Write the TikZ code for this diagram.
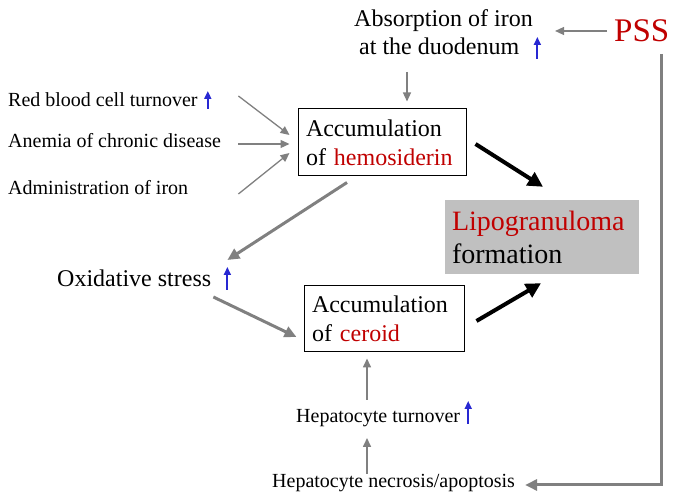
\documentclass[tikz,border=0pt]{standalone}
\usepackage{fontspec}
\setmainfont{Liberation Serif}
\usetikzlibrary{arrows.meta}
\definecolor{darkred}{RGB}{192,0,0}
\definecolor{linegray}{RGB}{128,128,128}
\definecolor{upblue}{RGB}{40,40,210}
\definecolor{boxgray}{RGB}{192,192,192}

\begin{document}
\begin{tikzpicture}[x=1pt, y=1pt,
	small/.style={inner sep=0pt, anchor=base west, font=\fontsize{20}{24}\selectfont},
	big/.style={inner sep=0pt, anchor=base west, font=\fontsize{24}{29}\selectfont},
	acc/.style={draw, line width=1pt, align=left, inner xsep=8pt, inner ysep=0pt, minimum height=67pt, font=\fontsize{24}{29}\selectfont},
	feed/.style={draw=linegray, line width=1.3pt, -{Triangle[length=9pt, width=8pt]}},
	heavy/.style={draw=linegray, line width=3pt, -{Triangle[length=12pt, width=11pt]}},
	push/.style={draw=black, line width=4pt, -{Triangle[length=15pt, width=15pt]}},
	rise/.style={draw=upblue, line width=1.8pt, -{Triangle[length=8pt, width=7pt]}}]
	\useasboundingbox (0,0) rectangle (685,502);
	\node[small] (rbc) at (8,395) {Red blood cell turnover};
	\node[small] (acd) at (8,354) {Anemia of chronic disease};
	\node[small] (adm) at (8,307) {Administration of iron};
	\node[big] (absA) at (354,475) {Absorption of iron};
	\node[big] (absB) at (359,447) {at the duodenum};
	\node[inner sep=0pt, anchor=base west, font=\fontsize{33}{40}\selectfont, text=darkred] (pss) at (614,460) {PSS};
	\node[acc, text width=152pt] (hemo) at (382,359.5) {Accumulation\\of {\color{darkred}hemosiderin}};
	\node[fill=boxgray, align=left, inner xsep=7pt, inner ysep=0pt, text width=180pt, minimum height=74pt, font=\fontsize{28}{33}\selectfont] (lipo) at (542,265) {{\color{darkred}Lipogranuloma}\\formation};
	\node[big] (oxi) at (57,215) {Oxidative stress};
	\node[acc, text width=144pt, minimum height=66pt] (cer) at (384,183) {Accumulation\\of {\color{darkred}ceroid}};
	\node[small] (hept) at (296,79) {Hepatocyte turnover};
	\node[small] (necr) at (272,14) {Hepatocyte necrosis/apoptosis};
	\draw[feed] ([shift={(40.6,11)}]rbc.base east) -- ([shift={(-8,7.5)}]hemo.west);
	\draw[feed] ([shift={(17.3,4)}]acd.base east) -- ([shift={(-8,-1.5)}]hemo.west);
	\draw[feed] ([shift={(50,1)}]adm.base east) -- ([shift={(-8,-10.5)}]hemo.west);
	\draw[feed] ([shift={(-7,11)}]pss.base west) -- ([shift={(22,-4)}]absA.base east);
	\draw[feed] ([shift={(48,-17)}]absB.base west) -- ([shift={(25,7)}]hemo.north);
	\draw[heavy] ([shift={(-35,-6)}]hemo.south) -- ([shift={(16,27)}]oxi.base east);
	\draw[heavy] ([shift={(2,-10)}]oxi.base east) -- ([shift={(-7,-18)}]cer.west);
	\draw[push] ([shift={(9,-1.5)}]hemo.east) -- ([shift={(1,13)}]lipo.north);
	\draw[push] ([shift={(12,-2)}]cer.east) -- ([shift={(-1,-9)}]lipo.south);
	\draw[feed, line width=1.6pt] ([shift={(71,23)}]hept.base west) -- ([shift={(-17,-6)}]cer.south);
	\draw[feed, line width=1.6pt] ([shift={(95,14)}]necr.base west) -- ([shift={(71,-15)}]hept.base west);
	\draw[heavy] ([shift={(20,-12)}]pss.base) |- ([shift={(10,3)}]necr.base east);
	\draw[rise] ([shift={(10,-2)}]rbc.base east) -- ++(0,18);
	\draw[rise] ([shift={(18,-4)}]absB.base east) -- ++(0,22);
	\draw[rise] ([shift={(16,-3)}]oxi.base east) -- ++(0,23);
	\draw[rise] ([shift={(8,-1)}]hept.base east) -- ++(0,23);
\end{tikzpicture}
\end{document}
